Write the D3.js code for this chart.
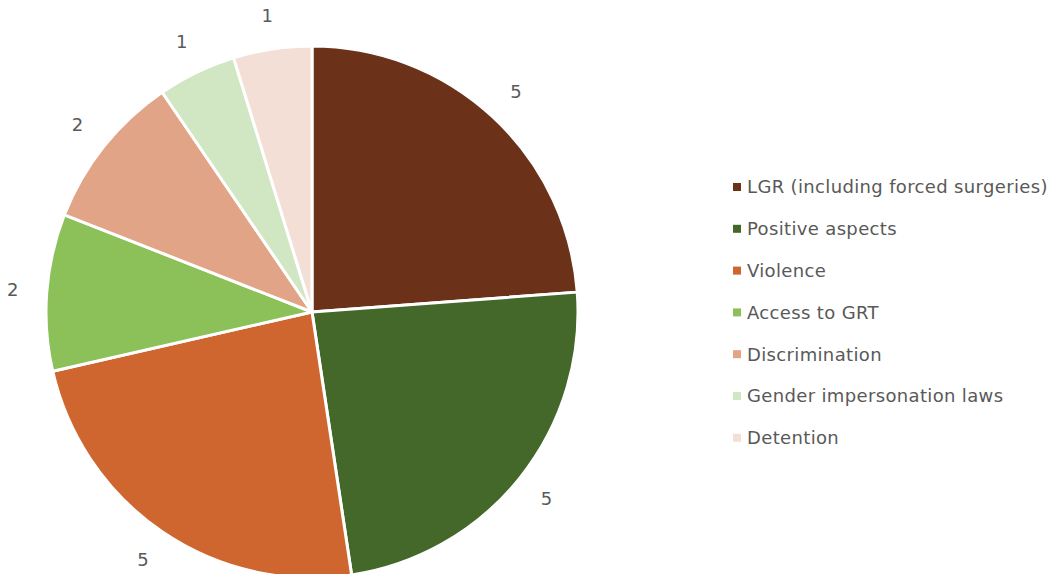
<!DOCTYPE html>
<html>
<head>
<meta charset="utf-8">
<script src="https://cdn.jsdelivr.net/npm/d3@7"></script>
<style>
  body { margin: 0; background: #fff; }
  text { font-family: "DejaVu Sans", sans-serif; fill: #595959; }
</style>
</head>
<body>
<div class="chart"></div>
<script>
var categories = ["LGR (including forced surgeries)", "Positive aspects", "Violence", "Access to GRT",
    "Discrimination", "Gender impersonation laws", "Detention"];
var values = [5, 5, 5, 2, 2, 1, 1];
var colors = ["#6B3219", "#43682A", "#CF6630", "#8BC158", "#E2A487", "#D1E6C3", "#F4DFD6"];

var data = categories.map(function (c, i) {
    return {name: c, value: values[i], color: colors[i]};
});

var width = 1056, height = 574;
var cx = 312, cy = 312, radius = 266;

var svg = d3.select("div.chart").append("svg")
    .attr("width", width)
    .attr("height", height);

var pie = d3.pie()
    .sort(null)
    .value(function (d) { return d.value; });

var arc = d3.arc()
    .innerRadius(0)
    .outerRadius(radius);

var labelArc = d3.arc()
    .innerRadius(300)
    .outerRadius(300);

var g = svg.append("g")
    .attr("transform", "translate(" + cx + "," + cy + ")");

g.selectAll("path")
    .data(pie(data))
    .enter().append("path")
    .attr("d", arc)
    .attr("fill", function (d) { return d.data.color; })
    .attr("stroke", "#fff")
    .attr("stroke-width", 3)
    .attr("stroke-linejoin", "round");

// value labels outside the slices
g.selectAll("text.val")
    .data(pie(data))
    .enter().append("text")
    .attr("class", "val")
    .attr("transform", function (d) { return "translate(" + labelArc.centroid(d) + ")"; })
    .attr("text-anchor", "middle")
    .attr("dy", "0.35em")
    .style("font-size", "18px")
    .text(function (d) { return d.data.value; });

// legend
var legend = svg.append("g")
    .attr("transform", "translate(733,187)");

var item = legend.selectAll("g")
    .data(data)
    .enter().append("g")
    .attr("transform", function (d, i) { return "translate(0," + (i * 41.8) + ")"; });

item.append("rect")
    .attr("x", 0)
    .attr("y", -4)
    .attr("width", 8)
    .attr("height", 8)
    .attr("fill", function (d) { return d.color; });

item.append("text")
    .attr("x", 14)
    .attr("dy", "0.35em")
    .style("font-size", "18px")
    .style("letter-spacing", "0.35px")
    .text(function (d) { return d.name; });
</script>
</body>
</html>
